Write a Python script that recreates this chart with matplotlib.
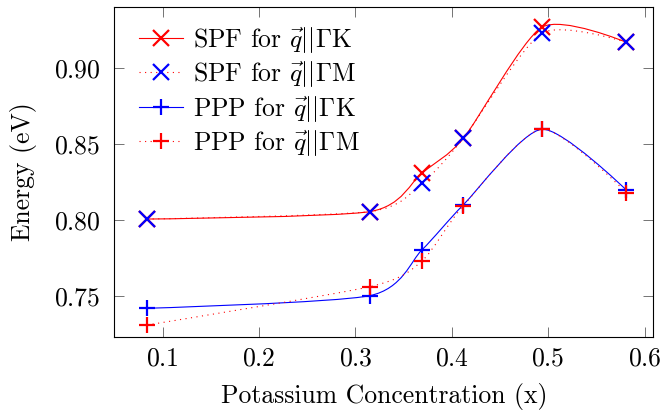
import matplotlib
matplotlib.use("Agg")
import matplotlib.pyplot as plt
import numpy as np
from matplotlib.path import Path
from matplotlib.patches import PathPatch

# =========================
# Data
# =========================
conc = [0.084, 0.315, 0.369, 0.412, 0.4935, 0.581]

spf_gk = [0.8006, 0.8055, 0.8310, 0.8537, 0.9268, 0.9169]
spf_gm = [0.8006, 0.8055, 0.8241, 0.8537, 0.9228, 0.9169]
ppp_gk = [0.7419, 0.7502, 0.7803, 0.8100, 0.8597, 0.8197]
ppp_gm = [0.7309, 0.7561, 0.7730, 0.8094, 0.8597, 0.8180]

labels = [r"SPF for $\vec{q}||\Gamma$K", r"SPF for $\vec{q}||\Gamma$M",
          r"PPP for $\vec{q}||\Gamma$K", r"PPP for $\vec{q}||\Gamma$M"]

plt.rcParams["font.family"] = "cmr10"
plt.rcParams["mathtext.fontset"] = "cm"
plt.rcParams["axes.formatter.use_mathtext"] = True
plt.rcParams["font.size"] = 18.5


def smooth_path(x, y, f=0.12):
    # tikz-like "smooth" curve: cubic bezier segments through the points
    pts = np.column_stack([x, y])
    verts = [pts[0]]
    codes = [Path.MOVETO]
    for i in range(len(pts) - 1):
        p0, p1 = pts[i], pts[i + 1]
        c1 = p0 if i == 0 else p0 + f * (pts[i + 1] - pts[i - 1])
        c2 = p1 if i == len(pts) - 2 else p1 - f * (pts[i + 2] - pts[i])
        verts += [c1, c2, p1]
        codes += [Path.CURVE4] * 3
    return Path(verts, codes)


series = [
    (spf_gk, "red", "-", "x", "red"),
    (spf_gm, "red", (0, (1, 4)), "x", "blue"),
    (ppp_gk, "blue", "-", "+", "blue"),
    (ppp_gm, "red", (0, (1, 4)), "+", "red"),
]

fig = plt.figure(figsize=(6.6, 4.11), dpi=100)
ax = fig.add_axes([0.1732, 0.1808, 0.8167, 0.8029])

handles = []
for (vals, lc, ls, mk, mc), lab in zip(series, labels):
    ax.add_patch(PathPatch(smooth_path(conc, vals), fill=False,
                           edgecolor=lc, linestyle=ls, linewidth=0.8))
    ax.plot(conc, vals, linestyle="none", marker=mk, markersize=11,
            markeredgewidth=1.6, color=mc)
    h, = ax.plot([], [], color=lc, linestyle=ls, linewidth=0.8,
                 marker=mk, markersize=11, markeredgewidth=1.6,
                 markeredgecolor=mc, label=lab)
    handles.append(h)

ax.set_xlim(0.05, 0.609)
ax.set_ylim(0.7232, 0.9403)
ax.set_xticks([0.1, 0.2, 0.3, 0.4, 0.5, 0.6])
ax.set_yticks([0.75, 0.80, 0.85, 0.90])
ax.tick_params(direction="in", length=7.5, width=0.7, color="0.45",
               top=True, right=True)
ax.tick_params(axis="x", pad=7)
ax.tick_params(axis="y", pad=10)
for s in ax.spines.values():
    s.set_linewidth(0.8)

ax.set_xlabel("Potassium Concentration (x)", labelpad=9.5)
ax.set_ylabel("Energy (eV)", labelpad=12)

ax.legend(handles=handles, loc="upper left", bbox_to_anchor=(0.046, 0.945),
          frameon=False, borderpad=0, borderaxespad=0, handlelength=1.7,
          handletextpad=0.4, labelspacing=0.17)

fig.savefig("out.png", dpi=100)
